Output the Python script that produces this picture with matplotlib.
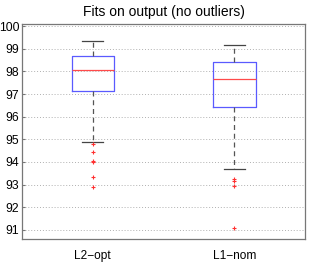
import matplotlib
matplotlib.use("Agg")
import matplotlib.pyplot as plt

plt.rcParams['font.family'] = ['Liberation Sans', 'DejaVu Sans']

labels = ['L2\u2212opt', 'L1\u2212nom']
whislo = [94.90, 93.71]
q1 = [97.15, 96.42]
med = [98.06, 97.67]
q3 = [98.68, 98.42]
whishi = [99.34, 99.15]
fliers = [
    [94.78, 94.43, 94.05, 94.00, 93.33, 92.89],
    [93.27, 93.15, 92.92, 91.08],
]
yticks = [91, 92, 93, 94, 95, 96, 97, 98, 99, 100]

stats = []
for i in range(len(labels)):
    stats.append(dict(label=labels[i], whislo=whislo[i], q1=q1[i], med=med[i],
                      q3=q3[i], whishi=whishi[i], fliers=fliers[i]))

fig = plt.figure(figsize=(3.09, 2.63), dpi=100)
ax = fig.add_axes([0.0712, 0.0913, 0.916, 0.818])

ax.bxp(stats, positions=[1, 2], widths=0.3,
       boxprops=dict(color='#5a5aff', lw=0.9),
       medianprops=dict(color='#ff4a4a', lw=0.9),
       whiskerprops=dict(color='#555555', lw=0.9, linestyle=(0, (4, 3))),
       capprops=dict(color='#444444', lw=0.9),
       flierprops=dict(marker='+', markeredgecolor='#ff3030', markersize=3.5,
                       markeredgewidth=0.8, linestyle='none'),
       capwidths=0.15)

ax.set_xlim(0.5, 2.5)
ax.set_ylim(90.6, 100.1)
ax.set_yticks(yticks)
ax.set_yticklabels([str(t) for t in yticks])
ax.yaxis.grid(True, linestyle=(0, (1, 2)), color='#b0b0b0', lw=0.7)
ax.set_axisbelow(True)
ax.tick_params(axis='y', labelsize=8.8, direction='in', length=2, color='#777777', pad=2)
ax.tick_params(axis='x', labelsize=8.6, length=0, pad=8)
for s in ax.spines.values():
    s.set_color('#777777')
    s.set_linewidth(0.9)
ax.set_title('Fits on output (no outliers)', fontsize=10, pad=6)

fig.savefig('out.png', dpi=100)
